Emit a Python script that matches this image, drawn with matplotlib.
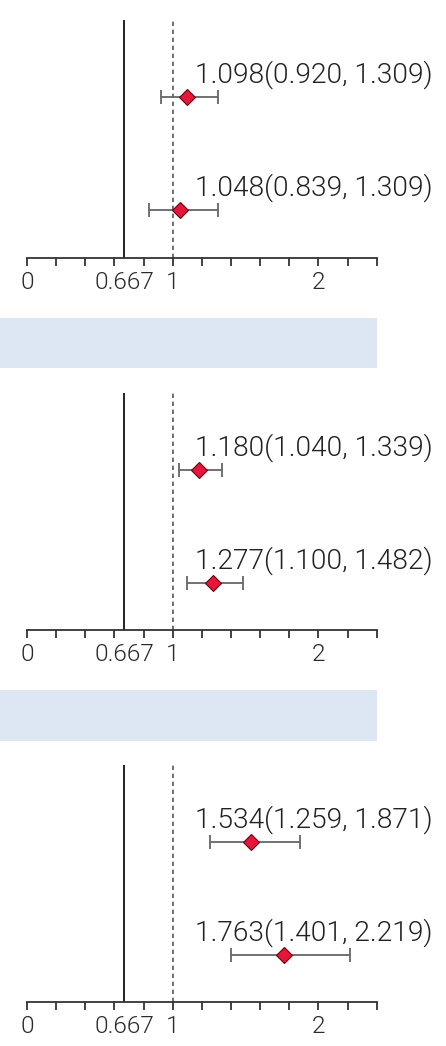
import matplotlib
matplotlib.use("Agg")
import math
import time
import matplotlib.pyplot as plt
from matplotlib.patches import Rectangle
from matplotlib import font_manager
from matplotlib.ft2font import FT2Font
import numpy as np

# ---- data ----
est_p1 = [1.098, 1.048]
lo_p1 = [0.920, 0.839]
hi_p1 = [1.309, 1.309]
est_p2 = [1.180, 1.277]
lo_p2 = [1.040, 1.100]
hi_p2 = [1.339, 1.482]
est_p3 = [1.534, 1.763]
lo_p3 = [1.259, 1.401]
hi_p3 = [1.871, 2.219]
panels = [(est_p1, lo_p1, hi_p1), (est_p2, lo_p2, hi_p2), (est_p3, lo_p3, hi_p3)]
ref_solid = 0.667
ref_dashed = 1.0
tick_labels_vals = [0, 0.667, 1, 2]
tick_labels_txt = ["0", "0.667", "1", "2"]
minor_ticks = [round(0.2 * i, 1) for i in range(13)]

# ---- font choice: face whose digit proportions match the reference ----
SAMPLE = "1.098(0.920, 1.309)"
TARGET_W, TARGET_H = 238.0, 20.7
ALLOWED = {"DejaVu Sans", "Liberation Sans", "Liberation Sans Narrow", "Noto Sans",
           "Roboto", "Roboto Condensed", "Open Sans", "Open Sans Condensed", "Lato",
           "Inter", "DejaVu Sans Condensed", "Noto Sans Display"}


def ink(ft, s):
    ft.set_text(s)
    w, h = ft.get_width_height()
    return w / 64.0, h / 64.0


best = None
t0 = time.time()
seen = set()
for f in font_manager.fontManager.ttflist:
    if time.time() - t0 > 15:
        break
    if f.name not in ALLOWED or f.style != "normal":
        continue
    try:
        wt = int(f.weight)
    except Exception:
        wt = {"light": 300, "normal": 400, "regular": 400, "book": 400}.get(str(f.weight), 700)
    if wt > 400 or wt < 250:
        continue
    key = (f.name, f.stretch, wt)
    if key in seen:
        continue
    seen.add(key)
    try:
        ft = FT2Font(f.fname)
        ft.set_size(100, 72)
        w, _ = ink(ft, SAMPLE)
        _, h = ink(ft, "0")
        tw, _ = ink(ft, "0.667")
    except Exception:
        continue
    if w <= 0 or h <= 0:
        continue
    score = abs(math.log((w / h) / (TARGET_W / TARGET_H))) + 0.03 * abs(wt - 330) / 100
    if best is None or score < best[0]:
        best = (score, f.name, f.stretch, wt, w, tw)

if best is None:
    fam, stretch, weight, w100, tw100 = "DejaVu Sans", "normal", 400, 1000.0, 290.0
else:
    _, fam, stretch, weight, w100, tw100 = best
plt.rcParams["font.family"] = [fam, "DejaVu Sans"]
label_fs = TARGET_W / w100 * 100 * 0.72
tick_fs = 60.0 / tw100 * 100 * 0.72

W, H = 446, 1046
fig = plt.figure(figsize=(W / 100, H / 100), dpi=100)

px_per_unit = 145.7
x0_px = 27.0
xlim = (-x0_px / px_per_unit, (W - x0_px) / px_per_unit)

panel_tops = [20.0, 392.5, 765.0]
panel_bottoms = [257.5, 629.5, 1001.5]
row_gap = 113.0
top_off = 77.0

for (est, lo, hi), ytop, ybot in zip(panels, panel_tops, panel_bottoms):
    h = ybot - ytop
    ax = fig.add_axes([0, 1 - ybot / H, 1, h / H])
    ax.set_xlim(*xlim)
    ax.set_ylim((h - top_off) / row_gap, -top_off / row_gap)
    ax.patch.set_alpha(0)
    for s in ("top", "left", "right"):
        ax.spines[s].set_visible(False)
    ax.spines["bottom"].set_bounds(0, 2.4)
    ax.spines["bottom"].set_color("#333333")
    ax.spines["bottom"].set_linewidth(1.3)
    ax.set_yticks([])
    ax.xaxis.remove_overlapping_locs = False
    ax.set_xticks(tick_labels_vals)
    ax.set_xticklabels(tick_labels_txt, fontstretch=stretch, fontweight=weight)
    ax.set_xticks(minor_ticks, minor=True)
    ax.tick_params(axis="x", which="major", length=0, pad=10, labelsize=tick_fs,
                   labelcolor="#2a2a2a")
    ax.tick_params(axis="x", which="minor", length=6, width=1.3, color="#333333",
                   direction="out")
    ax.axvline(ref_solid, color="#111111", lw=1.3)
    ax.axvline(ref_dashed, color="#555555", lw=1.2, ls=(0, (2.6, 2.2)))
    ys = np.arange(len(est))
    e = np.array(est)
    ax.errorbar(e, ys, xerr=[e - np.array(lo), np.array(hi) - e], fmt="none",
                ecolor="#666666", elinewidth=1.3, capsize=5, capthick=1.3)
    ax.plot(e, ys, ls="none", marker="D", ms=8.2, mfc="#e5163a",
            mec="#6b0010", mew=0.8, zorder=5)
    for yi, (a, b, c) in enumerate(zip(est, lo, hi)):
        ax.text(1.15, yi - 0.125, f"{a:.3f}({b:.3f}, {c:.3f})", fontsize=label_fs,
                fontstretch=stretch, fontweight=weight, color="#222222",
                ha="left", va="baseline")

# light blue separator bands
for ytop_b, ybot_b in [(318, 368), (690, 741)]:
    fig.patches.append(Rectangle((0, 1 - ybot_b / H), 377 / W, (ybot_b - ytop_b) / H,
                                 transform=fig.transFigure, facecolor="#dce7f3",
                                 edgecolor="none", zorder=0))

fig.savefig("out.png", dpi=100)
